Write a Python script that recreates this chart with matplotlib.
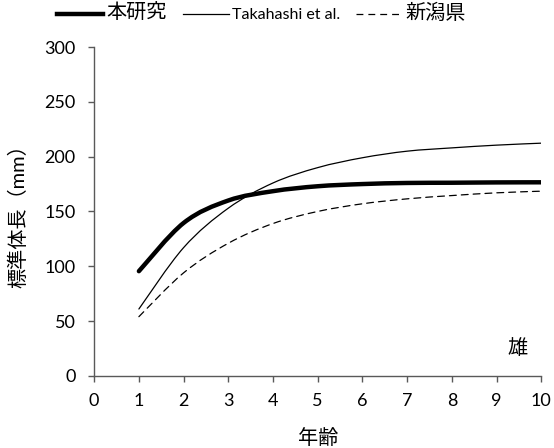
import numpy as np
import matplotlib.pyplot as plt
from matplotlib.path import Path
from matplotlib.patches import PathPatch
from matplotlib.lines import Line2D

plt.rcParams['font.family'] = ['Lato', 'Noto Sans CJK JP', 'DejaVu Sans']

# growth curves (standard length, mm, by age)
age = [1, 2, 3, 4, 5, 6, 7, 8, 9, 10]
this_study = [95.5, 139.5, 160, 168.5, 173, 175, 176, 176.2, 176.5, 176.6]
takahashi = [61, 117, 153, 176, 190, 199, 205, 208, 210.5, 212.3]
niigata = [54, 94, 121, 139, 150, 157, 161.5, 164.5, 167, 168.5]


def smooth_path(x, y):
    # Excel-style smoothed line: cubic Bezier through the points
    x = np.asarray(x, float)
    y = np.asarray(y, float)
    pts = np.column_stack([x, y])
    verts = [pts[0]]
    codes = [Path.MOVETO]
    n = len(pts)
    for i in range(n - 1):
        p0 = pts[i - 1] if i > 0 else pts[i]
        p1 = pts[i]
        p2 = pts[i + 1]
        p3 = pts[i + 2] if i + 2 < n else pts[i + 1]
        c1 = p1 + (p2 - p0) / 6.0
        c2 = p2 - (p3 - p1) / 6.0
        verts += [c1, c2, p2]
        codes += [Path.CURVE4] * 3
    return Path(verts, codes)


fig = plt.figure(figsize=(5.54, 4.48), dpi=100)
ax = fig.add_axes([0.170, 0.161, 0.807, 0.734])

styles = [
    (this_study, dict(lw=3.2, ls='-'), '本研究'),
    (takahashi, dict(lw=0.9, ls='-'), 'Takahashi et al.'),
    (niigata, dict(lw=0.9, ls=(0, (5.5, 4))), '新潟県'),
]
handles = []
for vals, st, lab in styles:
    patch = PathPatch(smooth_path(age, vals), facecolor='none', edgecolor='black',
                      linewidth=st['lw'], linestyle=st['ls'], capstyle='round')
    ax.add_patch(patch)
    handles.append(Line2D([], [], color='black', linewidth=st['lw'], linestyle=st['ls']))

ax.set_xlim(0, 10)
ax.set_ylim(0, 300)
ax.set_xticks(range(0, 11))
ax.set_yticks(range(0, 301, 50))
ax.tick_params(labelsize=13, length=4.5, width=1, color='#595959', direction='out')
ax.tick_params(axis='x', pad=8)
ax.tick_params(axis='y', pad=9)
for side in ['top', 'right']:
    ax.spines[side].set_visible(False)
for side in ['left', 'bottom']:
    ax.spines[side].set_color('#595959')
    ax.spines[side].set_linewidth(1)

ax.set_xlabel('年齢', fontsize=14.5)
ax.set_ylabel('標準体長（mm）', fontsize=14.5)
ax.xaxis.set_label_coords(0.5, -0.16)
ax.yaxis.set_label_coords(-0.15, 0.5)
ax.text(9.47, 26, '雄', fontsize=14.5, ha='center', va='center')

leg = fig.legend(handles, [s[2] for s in styles], loc='center', bbox_to_anchor=(0.472, 0.972),
                 ncol=3, frameon=False, fontsize=11.5, handlelength=2.9, handletextpad=0.2,
                 columnspacing=1.0, borderpad=0)
for t in leg.get_texts():
    if t.get_text() != 'Takahashi et al.':
        t.set_fontsize(14.5)

fig.savefig('out.png', dpi=100)
